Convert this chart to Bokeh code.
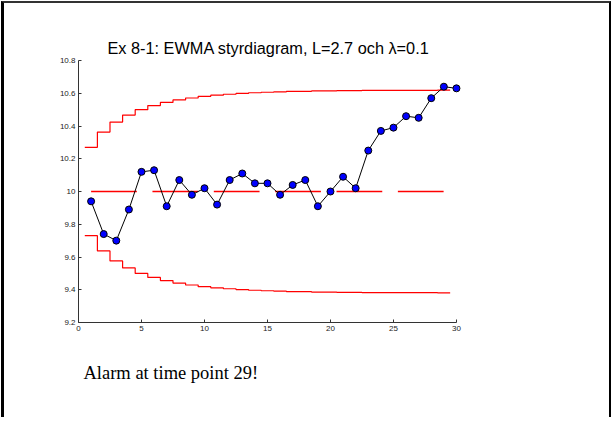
from bokeh.plotting import figure
from bokeh.models import FixedTicker, Range1d, Title
from bokeh.embed import file_html
from bokeh.resources import INLINE

# ---- data ----
t = list(range(1, 31))
ewma = [9.94, 9.74, 9.70, 9.89, 10.12, 10.13, 9.91, 10.07, 9.98, 10.02,
        9.92, 10.07, 10.11, 10.05, 10.05, 9.98, 10.04, 10.07, 9.91, 10.00,
        10.09, 10.02, 10.25, 10.37, 10.39, 10.46, 10.45, 10.57, 10.64, 10.63]
ucl = [10.270, 10.363, 10.424, 10.467, 10.500, 10.525, 10.544, 10.559, 10.571, 10.581,
       10.588, 10.594, 10.599, 10.603, 10.606, 10.609, 10.611, 10.612, 10.614, 10.615,
       10.616, 10.616, 10.617, 10.617, 10.618, 10.618, 10.618, 10.618, 10.619, 10.619]
lcl = [9.730, 9.637, 9.576, 9.533, 9.500, 9.475, 9.456, 9.441, 9.429, 9.419,
       9.412, 9.406, 9.401, 9.397, 9.394, 9.391, 9.389, 9.388, 9.386, 9.385,
       9.384, 9.384, 9.383, 9.383, 9.382, 9.382, 9.382, 9.382, 9.381, 9.381]
center = 10.0
x_ticks = [0, 5, 10, 15, 20, 25, 30]
y_ticks = [9.2, 9.4, 9.6, 9.8, 10.0, 10.2, 10.4, 10.6, 10.8]
y_tick_labels = ["9.2", "9.4", "9.6", "9.8", "10", "10.2", "10.4", "10.6", "10.8"]
title_text = "Ex 8-1: EWMA styrdiagram, L=2.7 och \u03bb=0.1"
note_text = "Alarm at time point 29!"

p = figure(width=610, height=416, output_backend="svg", toolbar_location=None,
           x_range=Range1d(0, 30.4), y_range=Range1d(9.2, 10.8),
           min_border_left=74, min_border_right=153, min_border_top=57, min_border_bottom=97)
p.styles = {"margin-left": "1px", "margin-top": "1px",
            "border-left": "3px solid #000000", "border-top": "2px solid #333333",
            "border-right": "2px solid #000000"}
p.outline_line_color = None
p.grid.visible = False
p.background_fill_color = "white"
p.border_fill_color = "white"

for ax in (p.xaxis[0], p.yaxis[0]):
    ax.major_tick_in = 3
    ax.major_tick_out = 0
    ax.minor_tick_in = 0
    ax.minor_tick_out = 0
    ax.axis_line_color = "#333333"
    ax.major_tick_line_color = "#333333"
    ax.major_label_text_font = "Liberation Sans"
    ax.major_label_text_font_size = "8px"
    ax.major_label_text_color = "#222222"
p.xaxis[0].bounds = (x_ticks[0], x_ticks[-1])
p.xaxis[0].ticker = FixedTicker(ticks=x_ticks)
p.yaxis[0].ticker = FixedTicker(ticks=y_ticks)
p.yaxis[0].major_label_overrides = {v: s for v, s in zip(y_ticks, y_tick_labels)}
p.xaxis[0].major_label_standoff = 3
p.yaxis[0].major_label_standoff = 3

# center line, dashed: dash pieces drawn as thin red bars (style lengths in data units)
dash_len, dash_period = 3.63, 4.87
mids, widths = [], []
s = t[0]
while s < t[-1]:
    e = min(s + dash_len, t[-1])
    mids.append((s + e) / 2)
    widths.append(e - s)
    s += dash_period
p.rect(x=mids, y=[center] * len(mids), width=widths, height=1.3, height_units="screen",
       fill_color="#ff0000", line_color=None)
# control limits as stairs
x_edges = [ti - 0.5 for ti in t]
p.step(x_edges, ucl, mode="after", line_color="#ff0000", line_width=1.2)
p.step(x_edges, lcl, mode="after", line_color="#ff0000", line_width=1.2)
# EWMA statistic
p.line(t, ewma, line_color="black", line_width=1)
p.scatter(t, ewma, size=7, fill_color="#0000ff", line_color="black", line_width=1)

p.add_layout(Title(text=title_text, align="left", offset=29, text_font="Liberation Sans",
                   text_font_size="16.3px", text_font_style="normal", text_color="black",
                   standoff=8), "above")
p.add_layout(Title(text=note_text, align="left", offset=5, text_font="Liberation Serif",
                   text_font_size="18.5px", text_font_style="normal", text_color="black",
                   standoff=54), "below")

open("out.html", "w").write(file_html(p, INLINE))
